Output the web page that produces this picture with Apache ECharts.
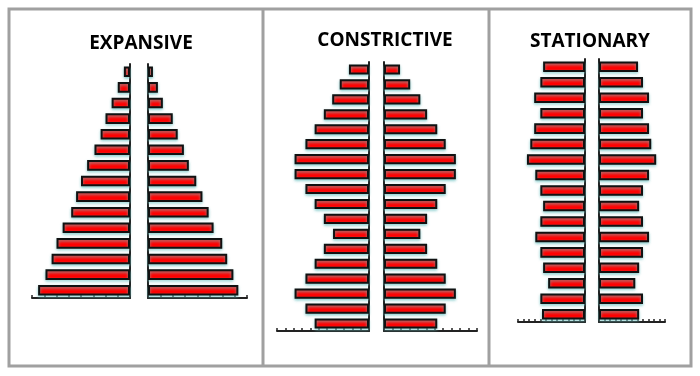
<!DOCTYPE html>
<html>
<head>
<meta charset="utf-8">
<script src="https://cdn.jsdelivr.net/npm/echarts@6/dist/echarts.min.js"></script>
<style>
	html, body { margin: 0; padding: 0; background: #fff; }
	#chart { width: 700px; height: 376px; }
</style>
</head>
<body>
<div id="chart"></div>
<script type="text/javascript">
	// age groups, youngest first (bottom of each pyramid)
	var agesExpansive = ['0-4','5-9','10-14','15-19','20-24','25-29','30-34','35-39','40-44','45-49','50-54','55-59','60-64','65-69','70+'];
	var agesConstrictive = ['0-4','5-9','10-14','15-19','20-24','25-29','30-34','35-39','40-44','45-49','50-54','55-59','60-64','65-69','70-74','75-79','80-84','85+'];
	var agesStationary = ['0-4','5-9','10-14','15-19','20-24','25-29','30-34','35-39','40-44','45-49','50-54','55-59','60-64','65-69','70-74','75-79','80+'];

	var expansiveLeft  = [7.5, 6.9, 6.4, 6.0, 5.5, 4.8, 4.4, 4.0, 3.5, 2.9, 2.4, 2.0, 1.5, 1.0, 0.5];
	var expansiveRight = [7.3, 6.9, 6.4, 6.0, 5.3, 4.9, 4.4, 3.9, 3.3, 2.9, 2.4, 2.0, 1.2, 0.8, 0.4];

	var constrictiveLeft  = [6.5, 7.6, 8.9, 7.6, 6.5, 5.4, 4.3, 5.4, 6.5, 7.6, 8.9, 8.9, 7.6, 6.5, 5.4, 4.4, 3.5, 2.4];
	var constrictiveRight = [6.3, 7.3, 8.5, 7.3, 6.3, 5.1, 4.3, 5.1, 6.3, 7.3, 8.5, 8.5, 7.3, 6.3, 5.1, 4.3, 3.1, 1.9];

	var stationaryLeft  = [7.7, 8.0, 6.6, 7.5, 8.0, 8.9, 8.0, 7.5, 8.0, 8.9, 10.4, 9.8, 9.1, 8.0, 9.1, 8.0, 7.5];
	var stationaryRight = [7.3, 8.0, 6.6, 7.3, 8.0, 9.1, 8.0, 7.3, 8.0, 9.1, 10.4, 9.5, 9.1, 8.0, 9.1, 8.0, 7.1];

	var axisMax = [8, 11, 12];

	var chart = echarts.init(document.getElementById('chart'));

	var grids = [], xAxes = [], yAxes = [], series = [];

	var barStyle = {
		color: '#ff0000',
		borderColor: '#111',
		borderWidth: 2,
		shadowColor: 'rgba(110,195,195,0.75)',
		shadowBlur: 3,
		shadowOffsetY: 1.5
	};

	// one pyramid = two grids (left half mirrored, right half)
	function addPyramid(ages, leftData, rightData, max, lbox, rbox) {
		var boxes = [lbox, rbox];
		var datas = [leftData, rightData];
		for (var k = 0; k < 2; k++) {
			var idx = grids.length;
			grids.push(boxes[k]);
			xAxes.push({
				type: 'value',
				gridIndex: idx,
				min: 0,
				max: max,
				interval: 1,
				inverse: k == 0,
				axisLine: { show: true, lineStyle: { color: '#222', width: 2 } },
				axisTick: { show: true, inside: true, length: 3, lineStyle: { color: '#222', width: 1.5 } },
				axisLabel: { show: false },
				splitLine: { show: false }
			});
			yAxes.push({
				type: 'category',
				gridIndex: idx,
				data: ages,
				position: k == 0 ? 'right' : 'left',
				axisLine: { show: true, lineStyle: { color: '#222', width: 2 } },
				axisTick: { show: false },
				axisLabel: { show: false }
			});
			series.push({
				type: 'bar',
				xAxisIndex: idx,
				yAxisIndex: idx,
				barWidth: '68%',
				itemStyle: barStyle,
				silent: true,
				data: datas[k]
			});
		}
	}

	addPyramid(agesExpansive, expansiveLeft, expansiveRight, axisMax[0],
		{ left: 32, right: 570, top: 64, bottom: 78 },
		{ left: 148, right: 453, top: 64, bottom: 78 });
	addPyramid(agesConstrictive, constrictiveLeft, constrictiveRight, axisMax[1],
		{ left: 277, right: 331, top: 62, bottom: 45 },
		{ left: 384, right: 223, top: 62, bottom: 45 });
	addPyramid(agesStationary, stationaryLeft, stationaryRight, axisMax[2],
		{ left: 518, right: 115, top: 59, bottom: 54 },
		{ left: 599, right: 35, top: 59, bottom: 54 });

	var titleStyle = { fontFamily: 'Open Sans', fontWeight: 'bold', fontSize: 19, color: '#000' };

	var option = {
		animation: false,
		title: [
			{ text: 'EXPANSIVE', left: 136, top: 29, textAlign: 'center', textStyle: titleStyle },
			{ text: 'CONSTRICTIVE', left: 380, top: 26, textAlign: 'center', textStyle: titleStyle },
			{ text: 'STATIONARY', left: 585, top: 27, textAlign: 'center', textStyle: titleStyle }
		],
		grid: grids,
		xAxis: xAxes,
		yAxis: yAxes,
		series: series,
		graphic: [
			// panel frames
			{ type: 'rect', shape: { x: 9, y: 9, width: 682, height: 357 }, style: { fill: 'none', stroke: '#a0a0a0', lineWidth: 3 } },
			{ type: 'line', shape: { x1: 263, y1: 9, x2: 263, y2: 366 }, style: { stroke: '#a0a0a0', lineWidth: 3 } },
			{ type: 'line', shape: { x1: 489, y1: 9, x2: 489, y2: 366 }, style: { stroke: '#a0a0a0', lineWidth: 3 } }
		]
	};
	chart.setOption(option);
</script>
</body>
</html>
